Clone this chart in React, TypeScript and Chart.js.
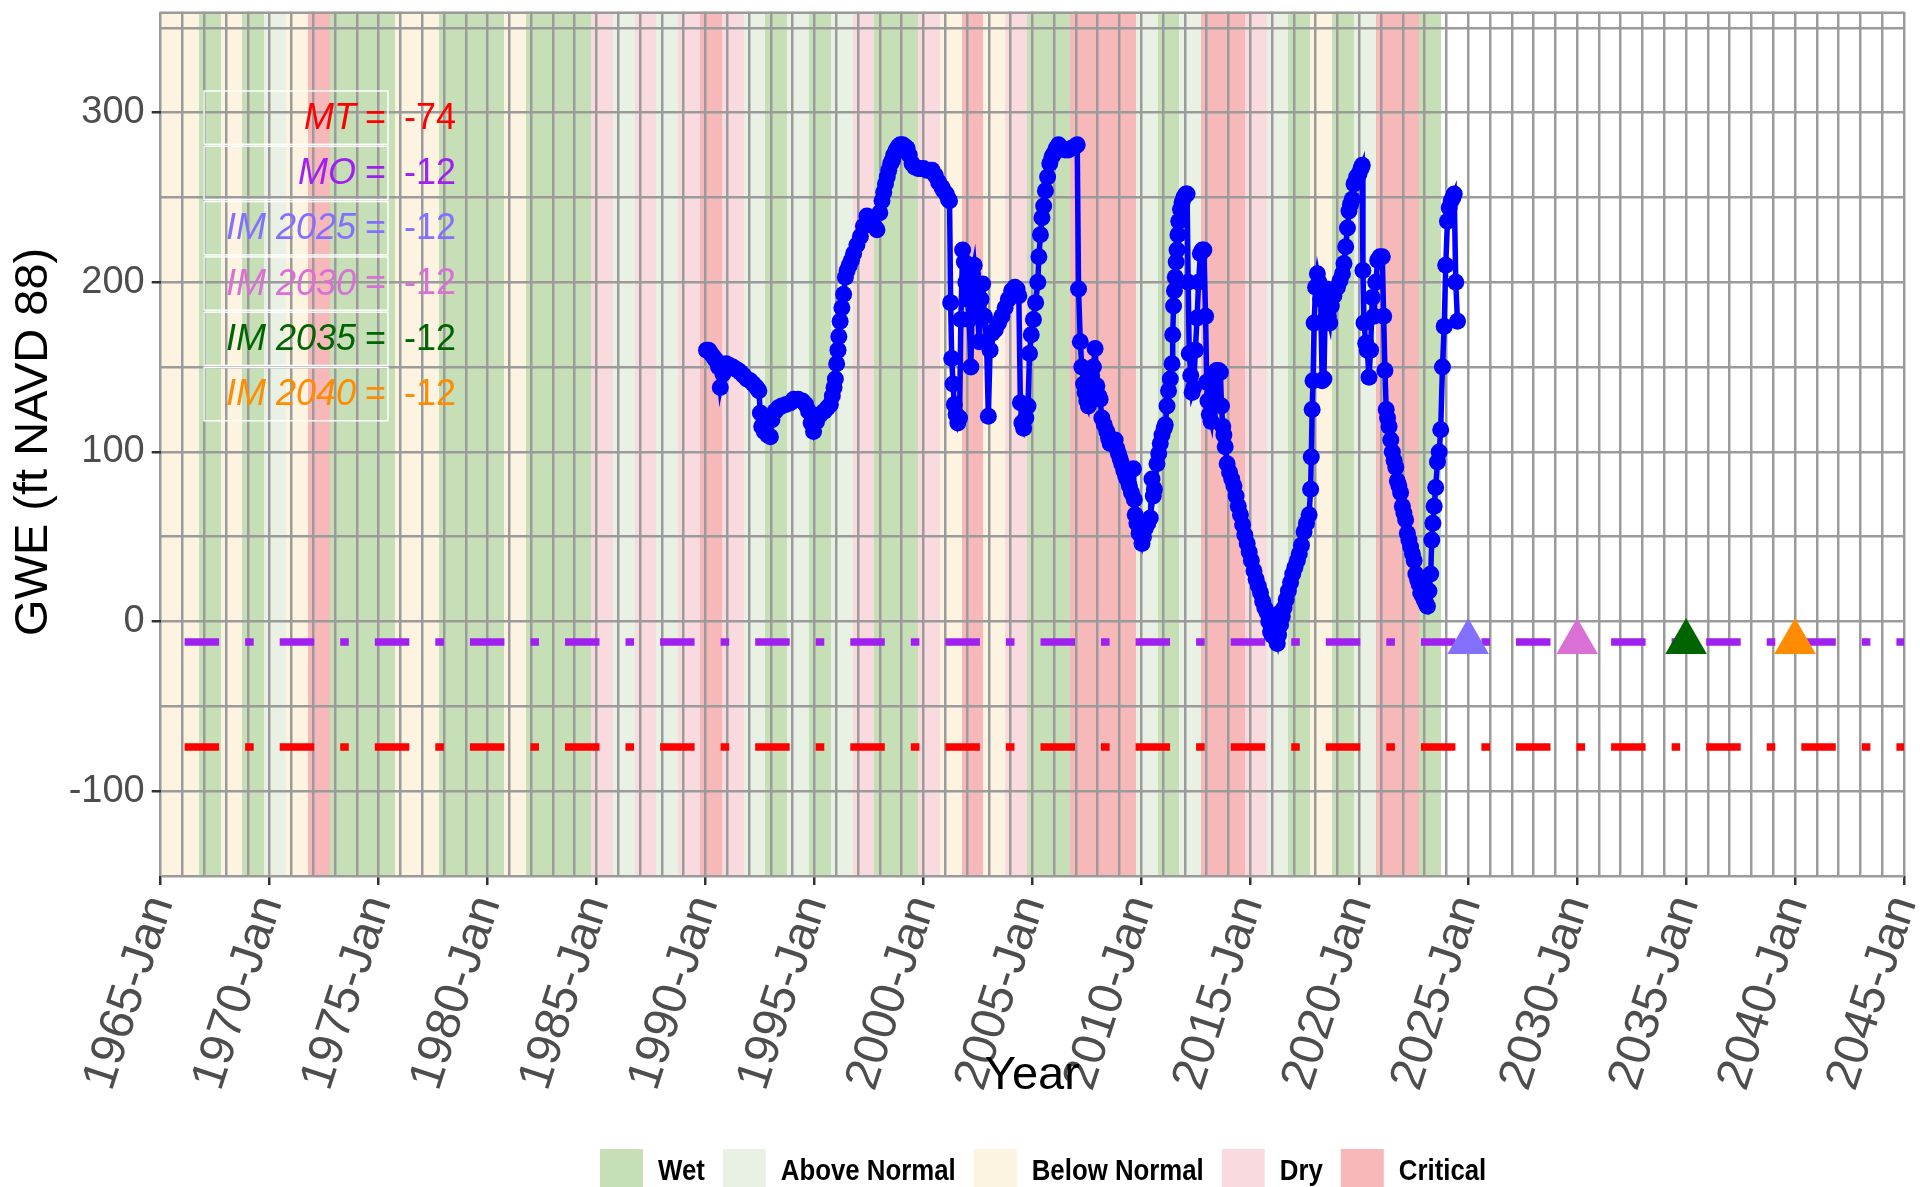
import React, { useEffect, useRef } from "react";
import { Chart, registerables } from "chart.js";

Chart.register(...registerables);

// ---------- water-year classification (water year Y = Oct Y-1 .. Sep Y) ----------
const waterYears = [
  1965, 1966, 1967, 1968, 1969, 1970, 1971, 1972, 1973, 1974,
  1975, 1976, 1977, 1978, 1979, 1980, 1981, 1982, 1983, 1984,
  1985, 1986, 1987, 1988, 1989, 1990, 1991, 1992, 1993, 1994,
  1995, 1996, 1997, 1998, 1999, 2000, 2001, 2002, 2003, 2004,
  2005, 2006, 2007, 2008, 2009, 2010, 2011, 2012, 2013, 2014,
  2015, 2016, 2017, 2018, 2019, 2020, 2021, 2022, 2023,
];
const waterYearTypes = [
  "BN", "BN", "W", "BN", "W", "AN", "BN", "C", "W", "W",
  "W", "BN", "BN", "W", "W", "W", "BN", "W", "W", "W",
  "D", "AN", "D", "AN", "D", "C", "D", "AN", "W", "AN",
  "W", "AN", "D", "W", "W", "D", "BN", "C", "BN", "D",
  "W", "W", "C", "C", "C", "AN", "W", "AN", "C", "C",
  "D", "AN", "W", "BN", "W", "AN", "C", "C", "W",
];
const typeCodes = ["W", "AN", "BN", "D", "C"];
const typeNames = ["Wet", "Above Normal", "Below Normal", "Dry", "Critical"];
const typeFill = ["#C6DFB6", "#E9F1E4", "#FCF3E0", "#F9DADE", "#F6B8B8"];

// ---------- thresholds ----------
const thresholdNames = ["MT", "MO", "IM 2025", "IM 2030", "IM 2035", "IM 2040"];
const thresholdValues = [-74, -12, -12, -12, -12, -12];
const thresholdColors = ["#FF0000", "#A020F0", "#8470FF", "#DA70D6", "#006400", "#FF8C00"];
const imYears = [2025, 2030, 2035, 2040];
const imValues = [-12, -12, -12, -12];
const imColors = ["#8470FF", "#DA70D6", "#006400", "#FF8C00"];

// ---------- axes ----------
const xMin = 1965;
const xMax = 2045;
const yMin = -150;
const yMax = 359.5;
const yGridValues = [-150, -100, -50, 0, 50, 100, 150, 200, 250, 300, 350];

// ---------- observed groundwater elevation (decimal year, ft NAVD 88) ----------
const obsDates = [
  1990.05, 1990.14, 1990.25, 1990.37, 1990.48, 1990.6, 1990.68, 1990.8, 1990.95, 1991.1,
  1991.25, 1991.37, 1991.5, 1991.6, 1991.75, 1991.9, 1992.05, 1992.2, 1992.35, 1992.45,
  1992.52, 1992.58, 1992.7, 1992.85, 1992.98, 1993.05, 1993.2, 1993.35, 1993.5, 1993.7,
  1993.9, 1994.05, 1994.25, 1994.45, 1994.6, 1994.73, 1994.85, 1994.96, 1995.1, 1995.27,
  1995.45, 1995.6, 1995.73, 1995.82, 1995.9, 1995.96, 1996.02, 1996.08, 1996.12, 1996.18,
  1996.26, 1996.34, 1996.42, 1996.5, 1996.6, 1996.7, 1996.8, 1996.95, 1997.11, 1997.25,
  1997.41, 1997.6, 1997.75, 1997.87, 1998.0, 1998.1, 1998.18, 1998.26, 1998.34, 1998.41,
  1998.5, 1998.58, 1998.64, 1998.75, 1998.85, 1998.94, 1999.05, 1999.15, 1999.25, 1999.35,
  1999.48, 1999.6, 1999.75, 1999.86, 2000.0, 2000.15, 2000.3, 2000.4, 2000.55, 2000.7,
  2000.85, 2000.93, 2001.05, 2001.15, 2001.2, 2001.25, 2001.3, 2001.36, 2001.42, 2001.5,
  2001.58, 2001.66, 2001.72, 2001.8, 2001.88, 2001.95, 2002.02, 2002.1, 2002.18, 2002.26,
  2002.33, 2002.4, 2002.48, 2002.56, 2002.64, 2002.72, 2002.8, 2002.9, 2002.98, 2003.06,
  2003.15, 2003.3, 2003.45, 2003.6, 2003.75, 2003.9, 2004.05, 2004.2, 2004.3, 2004.38,
  2004.45, 2004.52, 2004.6, 2004.7, 2004.8, 2004.87, 2004.95, 2005.05, 2005.15, 2005.25,
  2005.3, 2005.37, 2005.44, 2005.52, 2005.6, 2005.7, 2005.8, 2005.9, 2006.0, 2006.1,
  2006.2, 2006.35, 2006.5, 2006.65, 2006.8, 2006.95, 2007.06, 2007.12, 2007.2, 2007.27,
  2007.35, 2007.42, 2007.5, 2007.57, 2007.65, 2007.72, 2007.8, 2007.88, 2007.96, 2008.05,
  2008.11, 2008.19, 2008.3, 2008.42, 2008.5, 2008.57, 2008.7, 2008.8, 2008.88, 2008.95,
  2009.03, 2009.1, 2009.2, 2009.28, 2009.34, 2009.45, 2009.55, 2009.64, 2009.68, 2009.72,
  2009.8, 2009.9, 2010.03, 2010.1, 2010.18, 2010.3, 2010.41, 2010.49, 2010.55, 2010.6,
  2010.72, 2010.8, 2010.87, 2010.95, 2011.05, 2011.1, 2011.18, 2011.25, 2011.33, 2011.41,
  2011.44, 2011.48, 2011.52, 2011.56, 2011.6, 2011.64, 2011.68, 2011.72, 2011.8, 2011.87,
  2011.95, 2012.05, 2012.1, 2012.15, 2012.2, 2012.27, 2012.33, 2012.4, 2012.48, 2012.56,
  2012.63, 2012.71, 2012.8, 2012.87, 2012.95, 2013.0, 2013.06, 2013.12, 2013.2, 2013.28,
  2013.36, 2013.45, 2013.55, 2013.63, 2013.68, 2013.74, 2013.79, 2013.85, 2013.94, 2014.05,
  2014.15, 2014.25, 2014.35, 2014.45, 2014.55, 2014.65, 2014.75, 2014.86, 2014.95, 2015.05,
  2015.17, 2015.27, 2015.37, 2015.47, 2015.57, 2015.67, 2015.78, 2015.85, 2015.93, 2016.0,
  2016.08, 2016.16, 2016.24, 2016.3, 2016.35, 2016.39, 2016.47, 2016.55, 2016.65, 2016.75,
  2016.85, 2016.95, 2017.05, 2017.16, 2017.25, 2017.35, 2017.47, 2017.58, 2017.7, 2017.77,
  2017.8, 2017.84, 2017.88, 2017.93, 2018.0, 2018.08, 2018.15, 2018.23, 2018.3, 2018.38,
  2018.43, 2018.5, 2018.58, 2018.65, 2018.72, 2018.84, 2019.0, 2019.12, 2019.23, 2019.3,
  2019.38, 2019.46, 2019.53, 2019.6, 2019.68, 2019.76, 2019.88, 2019.99, 2020.08, 2020.14,
  2020.17, 2020.22, 2020.3, 2020.37, 2020.45, 2020.52, 2020.6, 2020.68, 2020.76, 2020.85,
  2020.95, 2021.06, 2021.12, 2021.18, 2021.24, 2021.3, 2021.37, 2021.45, 2021.52, 2021.6,
  2021.68, 2021.75, 2021.82, 2021.9, 2021.98, 2022.05, 2022.13, 2022.21, 2022.28, 2022.36,
  2022.44, 2022.52, 2022.6, 2022.68, 2022.75, 2022.82, 2022.9, 2022.98, 2023.05, 2023.13,
  2023.2, 2023.28, 2023.33, 2023.38, 2023.44, 2023.51, 2023.59, 2023.67, 2023.74, 2023.82,
  2023.9, 2023.97, 2024.05, 2024.13, 2024.22, 2024.3, 2024.36, 2024.43, 2024.51,
];
const obsGwe = [
  160, 160, 158, 156, 154, 150, 138, 146, 152, 151,
  150, 149, 148, 147, 145, 143, 142, 140, 138, 136,
  123, 115, 112, 110, 109, 119, 124, 126, 127, 128,
  129, 131, 131, 130, 128, 124, 117, 112, 118, 122,
  124, 126, 128, 133, 138, 143, 152, 160, 168, 177,
  185, 193, 203, 207, 210, 213, 217, 222, 227, 233,
  239, 236, 233, 231, 241, 248, 253, 258, 262, 266,
  270, 272, 275, 278, 280, 281, 281, 280, 279, 275,
  270, 268, 267, 267, 267, 266, 266, 266, 263, 259,
  256, 254, 252, 249, 248, 188, 155, 140, 128, 122,
  117, 120, 178, 219, 212, 200, 190, 178, 150, 205,
  210, 198, 185, 165, 190, 199, 180, 165, 121, 160,
  170, 172, 176, 180, 185, 190, 195, 197, 196, 192,
  129, 117, 114, 120, 127, 158, 169, 178, 188, 200,
  215, 228, 238, 245, 254, 262, 270, 274, 276, 279,
  281, 279, 278, 278, 279, 280, 281, 196, 165, 150,
  140, 135, 130, 127, 133, 145, 150, 161, 139, 133,
  131, 120, 116, 112, 108, 105, 106, 107, 102, 99,
  96, 93, 89, 86, 84, 80, 76, 90, 72, 63,
  58, 52, 46, 50, 55, 58, 61, 84, 74, 78,
  93, 99, 105, 110, 114, 116, 127, 136, 143, 152,
  169, 186, 195, 203, 212, 219, 228, 236, 243, 247,
  250, 252, 252, 200, 158, 145, 135, 138, 160, 179,
  200, 217, 219, 219, 180, 141, 130, 122, 118, 135,
  142, 148, 148, 147, 127, 115, 110, 103, 93, 88,
  84, 80, 74, 68, 63, 57, 51, 46, 41, 36,
  30, 25, 21, 17, 12, 8, 5, 0, -6, -8,
  -5, -10, -13, -8, 5, -2, 3, 8, 13, 18,
  23, 28, 32, 36, 40, 45, 53, 58, 63, 78,
  97, 125, 142, 176, 197, 205, 200, 190, 142, 143,
  178, 196, 180, 176, 186, 192, 197, 201, 205, 211,
  221, 232, 242, 246, 249, 258, 262, 264, 267, 269,
  207, 176, 164, 160, 144, 160, 191, 180, 200, 213,
  215, 215, 180, 148, 125, 120, 115, 107, 100, 95,
  91, 83, 80, 76, 68, 64, 60, 52, 48, 44,
  40, 36, 28, 25, 22, 17, 15, 13, 11, 9,
  18, 28, 48, 58, 68, 79, 94, 100, 113, 150,
  174, 210, 236, 244, 248, 250, 252, 200, 177,
];

const FONT = "'Liberation Sans', Arial, Helvetica, sans-serif";
const GRID = "#9B9B9B";
const DOTDASH = [34.5, 26, 8.6, 26];

export default function App() {
  const ref = useRef<HTMLCanvasElement | null>(null);

  useEffect(() => {
    document.body.style.margin = "0";
    const canvas = ref.current;
    if (!canvas) return;

    const xGridValues: number[] = [];
    for (let v = xMin; v <= xMax; v += 1) xGridValues.push(v);

    const decorPlugin = {
      id: "decor",
      beforeDraw(chart: any) {
        const { ctx, chartArea, scales } = chart;
        const xs = scales.x;
        ctx.save();
        ctx.fillStyle = "#FFFFFF";
        ctx.fillRect(0, 0, chart.width, chart.height);
        waterYears.forEach((wy, i) => {
          const a = Math.max(wy - 0.25, xMin);
          const b = Math.min(wy + 0.75, xMax);
          const x0 = Math.round(xs.getPixelForValue(a));
          const x1 = Math.round(xs.getPixelForValue(b));
          ctx.fillStyle = typeFill[typeCodes.indexOf(waterYearTypes[i])];
          ctx.fillRect(x0, chartArea.top, x1 - x0, chartArea.bottom - chartArea.top);
        });
        ctx.restore();
      },
      beforeDatasetsDraw(chart: any) {
        const { ctx, chartArea } = chart;
        ctx.save();
        ctx.strokeStyle = GRID;
        ctx.lineWidth = 2.5;
        ctx.beginPath();
        ctx.moveTo(chartArea.left, chartArea.top + 1);
        ctx.lineTo(chartArea.right, chartArea.top + 1);
        ctx.stroke();
        ctx.restore();
      },
      afterDraw(chart: any) {
        const { ctx, chartArea } = chart;
        ctx.save();
        // threshold table
        const boxL = 204, boxW = 184, boxT = 90, rowH = 55.3;
        thresholdNames.forEach((name, i) => {
          const y0 = boxT + i * rowH;
          const yc = y0 + rowH / 2 + 1;
          ctx.strokeStyle = "rgba(255,255,255,0.95)";
          ctx.lineWidth = 1.5;
          ctx.strokeRect(boxL, y0 + 1, boxW, rowH - 2);
          ctx.fillStyle = thresholdColors[i];
          ctx.textBaseline = "middle";
          ctx.textAlign = "right";
          ctx.font = `italic 36px ${FONT}`;
          ctx.fillText(name, 356, yc);
          ctx.font = `36px ${FONT}`;
          ctx.fillText("=", 386, yc);
          ctx.textAlign = "left";
          ctx.fillText(String(thresholdValues[i]), 404, yc);
        });
        // axis titles
        ctx.fillStyle = "#000000";
        ctx.font = `47px ${FONT}`;
        ctx.textAlign = "center";
        ctx.textBaseline = "middle";
        ctx.fillText("Year", (chartArea.left + chartArea.right) / 2, 1076);
        ctx.save();
        ctx.translate(34, (chartArea.top + chartArea.bottom) / 2 - 2);
        ctx.rotate(-Math.PI / 2);
        ctx.fillText("GWE (ft NAVD 88)", 0, 0);
        ctx.restore();
        // legend
        const sx = 0.86;
        ctx.font = `bold 30px ${FONT}`;
        ctx.textAlign = "left";
        ctx.textBaseline = "middle";
        let x = 600;
        typeNames.forEach((nm, i) => {
          ctx.fillStyle = typeFill[i];
          ctx.fillRect(x, 1149, 43, 45);
          const tx = x + 58;
          const w = ctx.measureText(nm).width * sx;
          ctx.save();
          ctx.translate(tx, 1172);
          ctx.scale(sx, 1);
          ctx.fillStyle = "#000000";
          ctx.fillText(nm, 0, 0);
          ctx.restore();
          x = tx + w + 18;
        });
        ctx.restore();
      },
    };

    const obsData = obsDates.map((d, i) => ({ x: d, y: obsGwe[i] }));
    const imData = imYears.map((d, i) => ({ x: d, y: imValues[i] }));

    const chart = new Chart(canvas, {
      type: "line",
      data: {
        datasets: [
          {
            label: "GWE",
            data: obsData,
            borderColor: "#0000FF",
            backgroundColor: "#0000FF",
            pointBackgroundColor: "#0000FF",
            pointBorderColor: "#0000FF",
            borderWidth: 5.5,
            pointRadius: 8.5,
            pointHoverRadius: 8.5,
            pointBorderWidth: 0,
            tension: 0,
          },
          {
            label: "IM",
            data: imData,
            showLine: false,
            pointStyle: "triangle",
            pointRadius: 24,
            pointHoverRadius: 24,
            pointBorderWidth: 0,
            pointBackgroundColor: imColors,
            pointBorderColor: imColors,
          },
          {
            label: "MO",
            data: [
              { x: xMin, y: thresholdValues[1] },
              { x: xMax, y: thresholdValues[1] },
            ],
            borderColor: thresholdColors[1],
            borderWidth: 7.5,
            borderDash: DOTDASH,
            borderDashOffset: 71.2,
            borderCapStyle: "butt",
            pointRadius: 0,
          },
          {
            label: "MT",
            data: [
              { x: xMin, y: thresholdValues[0] },
              { x: xMax, y: thresholdValues[0] },
            ],
            borderColor: thresholdColors[0],
            borderWidth: 7.5,
            borderDash: DOTDASH,
            borderDashOffset: 71.2,
            borderCapStyle: "butt",
            pointRadius: 0,
          },
        ],
      },
      options: {
        animation: false,
        responsive: false,
        devicePixelRatio: 1,
        events: [],
        layout: { autoPadding: false, padding: { left: 0, right: 16, top: 11.7, bottom: 0 } },
        plugins: { legend: { display: false }, tooltip: { enabled: false } },
        scales: {
          x: {
            type: "linear",
            min: xMin,
            max: xMax,
            afterBuildTicks: (s: any) => {
              s.ticks = xGridValues.map((v) => ({ value: v }));
            },
            afterFit: (s: any) => {
              s.height = 311;
              s.paddingLeft = 0;
              s.paddingRight = 0;
            },
            ticks: {
              autoSkip: false,
              minRotation: 72,
              maxRotation: 72,
              padding: 4,
              color: "#4D4D4D",
              font: { family: FONT, size: 48 },
              callback: (v: any) => (Number(v) % 5 === 0 ? `${v}-Jan` : ""),
            },
            grid: {
              color: GRID,
              lineWidth: 2.5,
              tickLength: 9,
              tickWidth: 2.5,
              tickColor: (c: any) =>
                c.tick && c.tick.value % 5 === 0 ? "#333333" : "rgba(0,0,0,0)",
            },
            border: { display: false },
          },
          y: {
            type: "linear",
            min: yMin,
            max: yMax,
            afterBuildTicks: (s: any) => {
              s.ticks = yGridValues.map((v) => ({ value: v }));
            },
            afterFit: (s: any) => {
              s.width = 160.7;
              s.paddingTop = 0;
              s.paddingBottom = 0;
            },
            ticks: {
              padding: 7,
              color: "#4D4D4D",
              font: { family: FONT, size: 38 },
              callback: (v: any) => (Number(v) % 100 === 0 ? String(v) : ""),
            },
            grid: {
              color: GRID,
              lineWidth: 2.5,
              tickLength: 9,
              tickWidth: 2.5,
              tickColor: (c: any) =>
                c.tick && c.tick.value % 100 === 0 ? "#333333" : "rgba(0,0,0,0)",
            },
            border: { display: false },
          },
        },
      },
      plugins: [decorPlugin],
    } as any);

    return () => chart.destroy();
  }, []);

  return (
    <div style={{ width: 1920, height: 1187, overflow: "hidden" }}>
      <canvas ref={ref} width={1920} height={1187} style={{ display: "block", width: 1920, height: 1187 }} />
    </div>
  );
}
